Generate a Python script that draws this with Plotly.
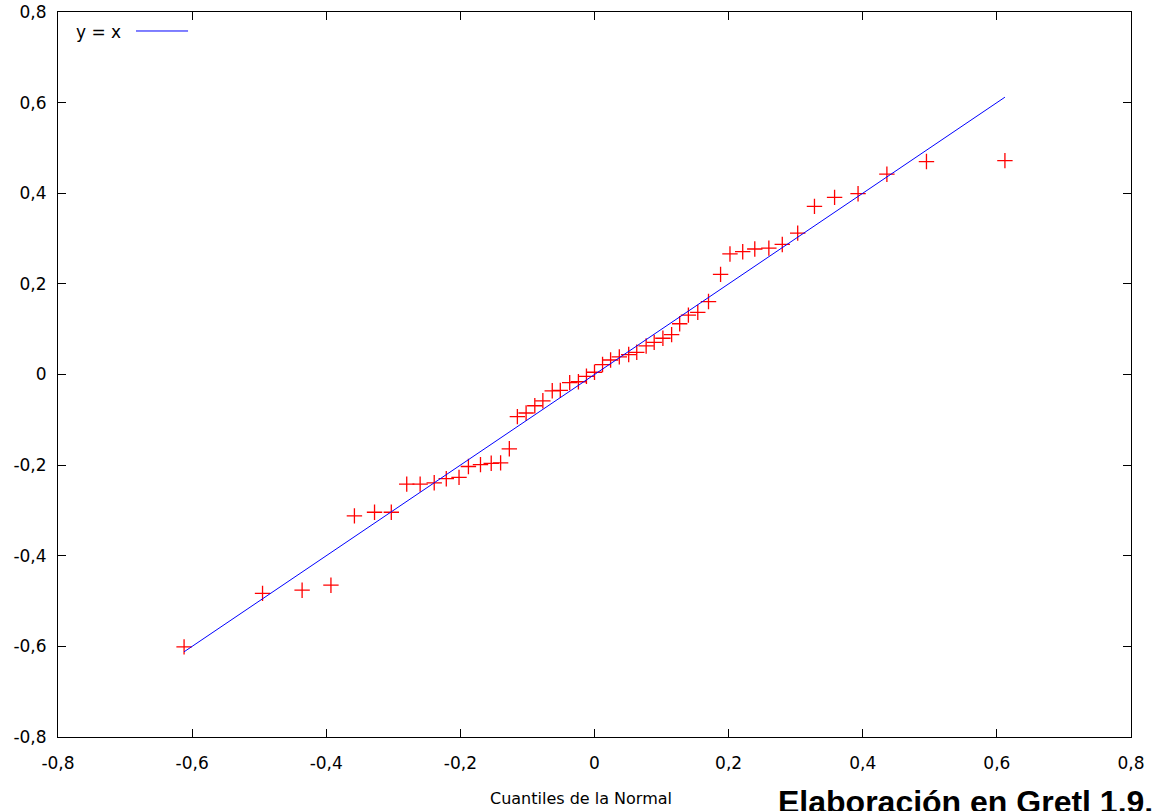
import plotly.graph_objects as go

# Normal quantiles (x) and ordered sample values (y) for the Q-Q plot
normal_quantiles = [
    -0.612, -0.495, -0.436, -0.393, -0.358, -0.328, -0.303, -0.280, -0.260, -0.239,
    -0.221, -0.202, -0.188, -0.170, -0.154, -0.140, -0.127, -0.115, -0.102, -0.089,
    -0.077, -0.063, -0.051, -0.037, -0.024, -0.012, 0.000, 0.012, 0.024, 0.037,
    0.051, 0.063, 0.077, 0.089, 0.102, 0.115, 0.127, 0.140, 0.154, 0.170,
    0.188, 0.202, 0.221, 0.239, 0.260, 0.280, 0.303, 0.328, 0.358, 0.393,
    0.436, 0.495, 0.612,
]
sample_values = [
    -0.601, -0.483, -0.476, -0.465, -0.312, -0.304, -0.304, -0.242, -0.242, -0.239,
    -0.230, -0.227, -0.203, -0.199, -0.196, -0.195, -0.164, -0.093, -0.085, -0.069,
    -0.058, -0.036, -0.035, -0.018, -0.016, -0.004, 0.005, 0.022, 0.032, 0.039,
    0.044, 0.049, 0.063, 0.071, 0.080, 0.088, 0.112, 0.131, 0.137, 0.161,
    0.221, 0.266, 0.271, 0.277, 0.279, 0.287, 0.312, 0.371, 0.391, 0.399,
    0.442, 0.470, 0.472,
]

# Reference line y = x over the range of the normal quantiles
ref_x = [min(normal_quantiles), max(normal_quantiles)]
ref_y = ref_x

tick_vals = [-0.8, -0.6, -0.4, -0.2, 0.0, 0.2, 0.4, 0.6, 0.8]
tick_text = ["-0,8", "-0,6", "-0,4", "-0,2", "0", "0,2", "0,4", "0,6", "0,8"]

x_title = "Cuantiles de la Normal"
legend_label = "y = x"
credit = "Elaboración en Gretl 1.9.4"

fig = go.Figure()

fig.add_trace(go.Scatter(
    x=normal_quantiles, y=sample_values, mode="markers",
    marker=dict(symbol="cross-thin", size=11, color="#ff0000",
                line=dict(color="#ff0000", width=1.3)),
    showlegend=False, hoverinfo="x+y",
))

fig.add_trace(go.Scatter(
    x=ref_x, y=ref_y, mode="lines",
    line=dict(color="#0000ff", width=1),
    name=legend_label, showlegend=False,
))

axis_common = dict(
    range=[-0.8, 0.8], tickvals=tick_vals, ticktext=tick_text,
    showgrid=False, zeroline=False, automargin=False,
    showline=True, linecolor="black", linewidth=1, mirror="ticks",
    ticks="inside", ticklen=8, tickcolor="black", tickwidth=1,
    tickfont=dict(family="DejaVu Sans", size=17, color="black"),
)

fig.update_xaxes(**axis_common, ticklabelstandoff=11)
fig.update_yaxes(**axis_common, ticklabelstandoff=7)

# Key for the reference line: label followed by a short line sample
fig.add_annotation(
    xref="paper", yref="paper", x=0.0145, y=0.972, xanchor="left", yanchor="middle",
    text=legend_label, showarrow=False,
    font=dict(family="DejaVu Sans", size=17, color="black"),
)
fig.add_shape(
    type="line", xref="paper", yref="paper",
    x0=0.0727, x1=0.1212, y0=0.9738, y1=0.9738,
    line=dict(color="#0000ff", width=1),
)

# Axis title and credit line below the plot
fig.add_annotation(
    xref="paper", yref="paper", x=0.487, y=-0.085, xanchor="center", yanchor="middle",
    text=x_title, showarrow=False,
    font=dict(family="DejaVu Sans", size=16, color="black"),
)
fig.add_annotation(
    xref="paper", yref="paper", x=0.6692, y=-0.089, xanchor="left", yanchor="middle",
    text="<b>" + credit + "</b>", showarrow=False,
    font=dict(family="Liberation Sans", size=32, color="black"),
)

fig.update_layout(
    width=1153, height=811,
    margin=dict(l=58, r=22, t=12, b=74),
    paper_bgcolor="white", plot_bgcolor="white",
    showlegend=False,
)

fig.write_html("out.html")
